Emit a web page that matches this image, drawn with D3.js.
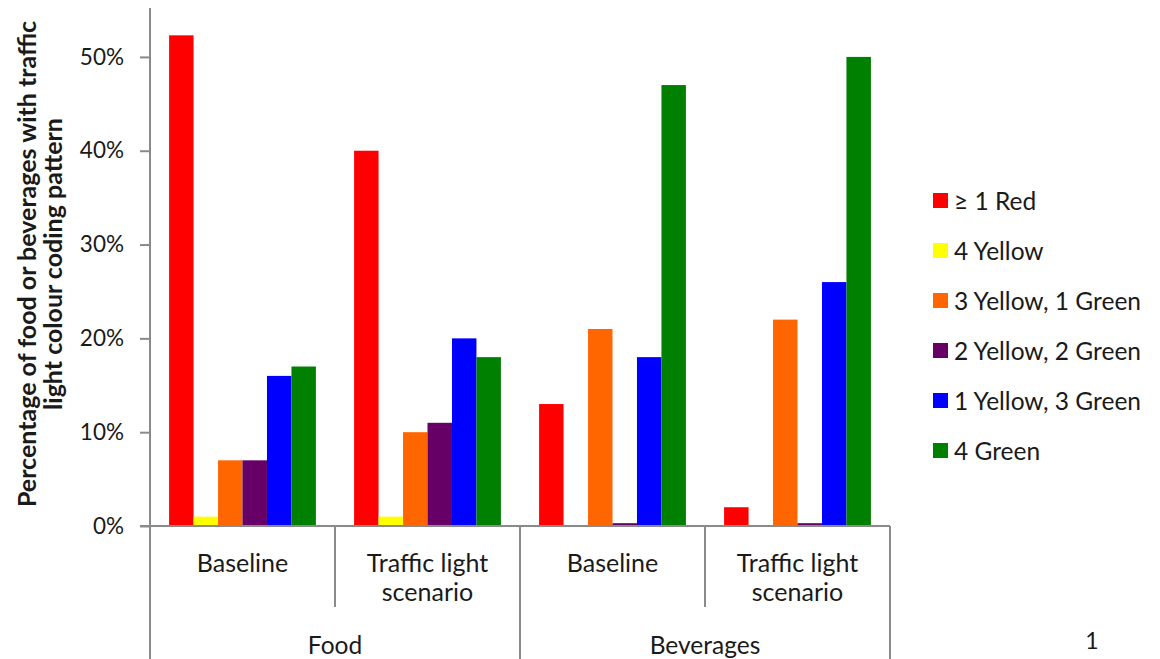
<!DOCTYPE html>
<html><head><meta charset="utf-8">
<script src="https://cdn.jsdelivr.net/npm/d3@7"></script>
<style>
body{margin:0;background:#fff}
svg{display:block}
text{font-family:Lato,"Open Sans",sans-serif;fill:#1a1a1a}
</style>
</head><body>
<svg id="chart" width="1160" height="659"></svg>
<script>
// Share of products per traffic-light colour pattern
const groups = ["Food", "Beverages"];
const scenarios = ["Baseline", "Traffic light scenario"];
const categories = ["Food|Baseline", "Food|Traffic light scenario", "Beverages|Baseline", "Beverages|Traffic light scenario"];
const series = ["≥ 1 Red", "4 Yellow", "3 Yellow, 1 Green", "2 Yellow, 2 Green", "1 Yellow, 3 Green", "4 Green"];
const colors = ["#ff0000", "#ffff00", "#ff6600", "#660066", "#0000ff", "#008000"];
const foodBaseline = [52.3, 1, 7, 7, 16, 17];
const foodTraffic = [40, 1, 10, 11, 20, 18];
const bevBaseline = [13, 0, 21, 0.3, 18, 47];
const bevTraffic = [2, 0, 22, 0.3, 26, 50];
const yTicks = [0, 10, 20, 30, 40, 50];

const values = [foodBaseline, foodTraffic, bevBaseline, bevTraffic];
const svg = d3.select("#chart");
const axisColor = "#8a8a8a";

const y = d3.scaleLinear().domain([0, 55]).range([526, 10]);
const x0 = d3.scaleBand().domain(categories).range([150, 890]).paddingInner(0).paddingOuter(0);
const x1 = d3.scaleBand().domain(series).range([0, x0.bandwidth()]).paddingInner(0).paddingOuter(0.78);
const color = d3.scaleOrdinal().domain(series).range(colors);

// bars
const cat = svg.append("g").selectAll("g").data(categories).join("g")
  .attr("transform", d => `translate(${x0(d)},0)`);
cat.selectAll("rect")
  .data((d, i) => series.map((s, j) => ({ s, v: values[i][j] })))
  .join("rect")
  .attr("x", d => x1(d.s))
  .attr("width", x1.bandwidth())
  .attr("y", d => y(d.v))
  .attr("height", d => y(0) - y(d.v))
  .attr("fill", d => color(d.s));

// value axis
const yAxis = svg.append("g").attr("transform", "translate(150,0)")
  .call(d3.axisLeft(y).tickValues(yTicks).tickFormat(d => d + "%").tickSize(10).tickPadding(16).tickSizeOuter(0));
yAxis.select(".domain").attr("stroke", axisColor).attr("stroke-width", 2).attr("d", "M0,8V659");
yAxis.selectAll(".tick line").attr("stroke", axisColor).attr("stroke-width", 2);
yAxis.selectAll(".tick text").attr("font-size", 22.5).attr("fill", "#333")
  .attr("font-family", "Lato, 'Open Sans', sans-serif");

// category axis: baseline and separators
svg.append("line").attr("x1", 140).attr("x2", 890).attr("y1", y(0)).attr("y2", y(0))
  .attr("stroke", axisColor).attr("stroke-width", 2);
const bounds = categories.map(c => x0(c)).concat([x0.range()[1]]);
svg.append("g").selectAll("line").data(bounds).join("line")
  .attr("x1", d => d).attr("x2", d => d)
  .attr("y1", y(0))
  .attr("y2", (d, i) => (i % 2 === 1 ? 607 : 659))
  .attr("stroke", axisColor).attr("stroke-width", 2);

// scenario labels
const lab = svg.append("g").selectAll("text").data(categories).join("text")
  .attr("text-anchor", "middle").attr("font-size", 25)
  .attr("x", d => x0(d) + x0.bandwidth() / 2);
lab.each(function (d) {
  const name = d.split("|")[1];
  const t = d3.select(this);
  const cx = x0(d) + x0.bandwidth() / 2;
  if (name === "Baseline") {
    t.append("tspan").attr("x", cx).attr("y", 572).text(name);
  } else {
    t.append("tspan").attr("x", cx).attr("y", 572).text("Traffic light");
    t.append("tspan").attr("x", cx).attr("y", 601).text("scenario");
  }
});

// group labels
svg.append("g").selectAll("text").data(groups).join("text")
  .attr("text-anchor", "middle").attr("font-size", 24.5).attr("y", 654)
  .attr("x", (g, i) => (x0(categories[i * 2]) + x0(categories[i * 2 + 1]) + x0.bandwidth()) / 2)
  .text(g => g);

// page number
svg.append("text").attr("x", 1092).attr("y", 649).attr("text-anchor", "middle")
  .attr("font-size", 23).attr("fill", "#666").text("1");

// y title
const yt = svg.append("text").attr("transform", "translate(0,264) rotate(-90)")
  .attr("text-anchor", "middle").attr("font-size", 25).attr("font-weight", "bold");
yt.append("tspan").attr("x", 0).attr("y", 36).text("Percentage of food or beverages with traffic");
yt.append("tspan").attr("x", 0).attr("y", 62).text("light colour coding pattern");

// legend
const leg = svg.append("g").selectAll("g").data(series).join("g")
  .attr("transform", (d, i) => `translate(933,${201 + i * 50})`);
leg.append("rect").attr("x", 0).attr("y", -8).attr("width", 15).attr("height", 15)
  .attr("fill", d => color(d));
leg.append("text").attr("x", 21).attr("y", 9).attr("font-size", 24.5).text(d => d);
</script>
</body></html>
